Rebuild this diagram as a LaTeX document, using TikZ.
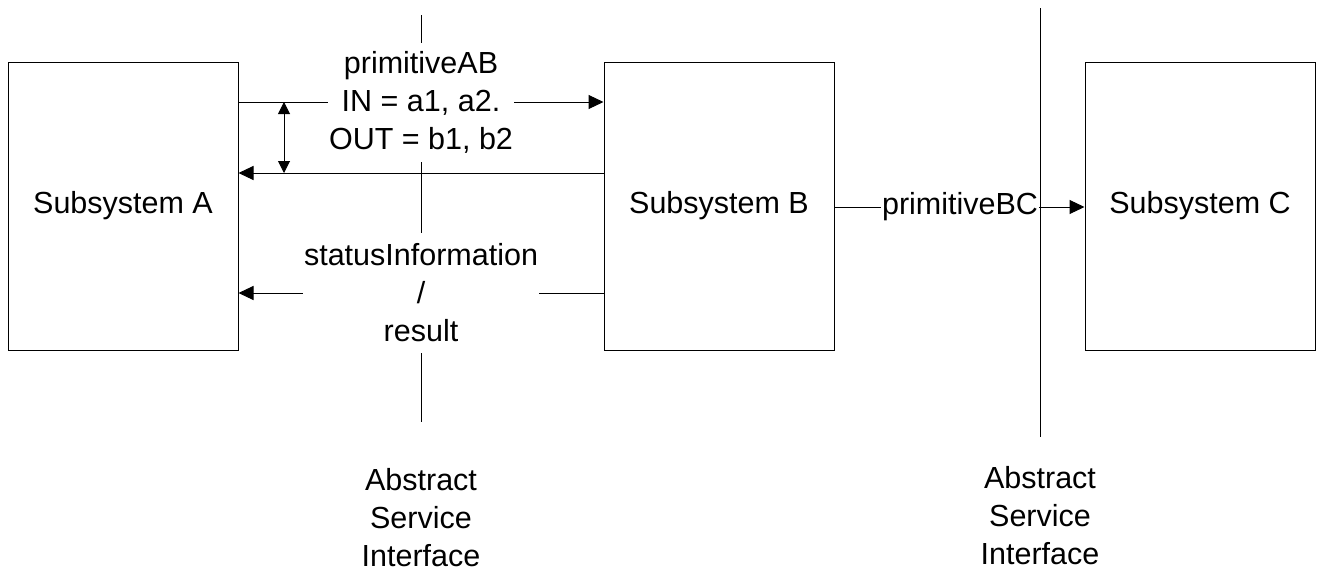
\documentclass[tikz,border=0pt]{standalone}
\usepackage{fontspec}
\setmainfont{Liberation Sans}
\usetikzlibrary{arrows.meta}
\begin{document}
\begin{tikzpicture}[x=1pt,y=-1pt,
  line width=1pt,
  txt/.style={font=\fontsize{30.5}{38}\selectfont},
  box/.style={draw, txt, minimum width=230pt, minimum height=288pt, inner sep=0pt},
  lbl/.style={txt, align=center, inner sep=1pt},
  arr/.style={-{Triangle[length=15pt,width=14pt]}},
  dbl/.style={{Triangle[length=12pt,width=12pt]}-{Triangle[length=12pt,width=12pt]}}]
\useasboundingbox (0,0) rectangle (1322,573);
% subsystems
\node[box] (A) at (123,206) {Subsystem A};
\node[box] (B) at (719,206) {Subsystem B};
\node[box] (C) at (1200,206) {Subsystem C};
% labels
\node[lbl] (ab) at (421,102) {primitiveAB\\IN = a1, a2.\\OUT = b1, b2};
\node[lbl] (st) at (421,293) {statusInformation\\/\\result};
\node[lbl] (bc) at (960,207) {primitiveBC};
\node[lbl] (if1) at (421,518) {Abstract\\Service\\Interface};
\node[lbl] (if2) at (1040,516) {Abstract\\Service\\Interface};
% coordinates
\coordinate (r1) at (0,173);
\coordinate (d1) at (284,102);
\coordinate (d2) at (284,173);
\coordinate (v1a) at (421,15);
\coordinate (v1b) at (421,43);
\coordinate (v1c) at (421,162);
\coordinate (v1d) at (421,233);
\coordinate (v1e) at (421,353);
\coordinate (v1f) at (421,422);
\coordinate (v2a) at (1040,8);
\coordinate (v2b) at (1040,437);
% interface lines
\draw (v1a) -- (v1b);
\draw (v1c) -- (v1d);
\draw (v1e) -- (v1f);
\draw (v2a) -- (v2b);
% primitiveAB
\draw (A.east |- ab.west) -- (ab.west);
\draw[arr] (ab.east) -- (B.west |- ab.east);
\draw[arr] (B.west |- r1) -- (A.east |- r1);
\draw[dbl] (d1) -- (d2);
% status
\draw[arr] (st.west) -- (A.east |- st.west);
\draw (B.west |- st.east) -- (st.east);
% primitiveBC
\draw (B.east |- bc.west) -- (bc.west);
\draw[arr] (bc.east) -- (C.west |- bc.east);
\end{tikzpicture}
\end{document}
